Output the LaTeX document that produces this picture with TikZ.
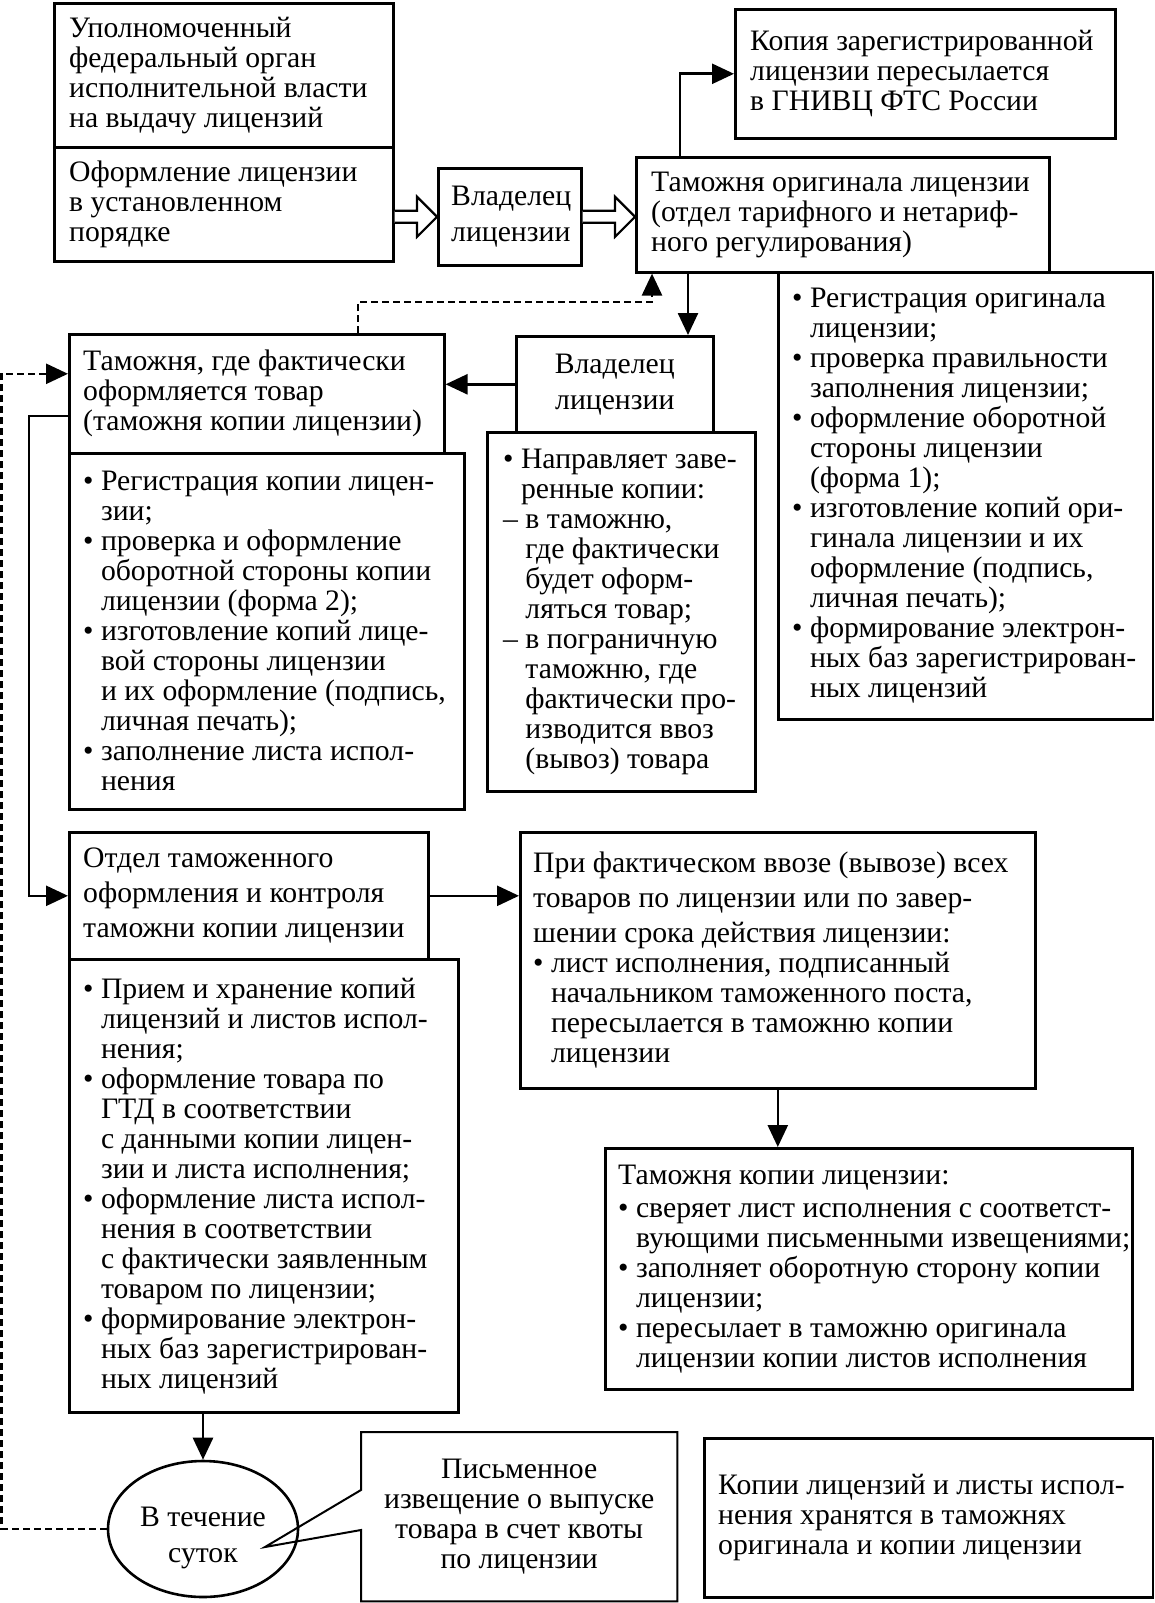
\documentclass[tikz,border=0pt]{standalone}
\usepackage{fontspec}
\setmainfont{Liberation Serif}
\usetikzlibrary{arrows.meta,shapes.geometric,calc}
\newcommand\bi{\hphantom{•\ }}
\newcommand\di{\hphantom{–\ }}
\newcommand\fatarrow[2]{\draw[line width=2.2pt, line join=miter, fill=white] let \p1=(#1), \p2=(#2) in (\x1,\y1+6pt) -- (\x2-20pt,\y1+6pt) -- (\x2-20pt,\y1+20pt) -- (\x2,\y1) -- (\x2-20pt,\y1-20pt) -- (\x2-20pt,\y1-6pt) -- (\x1,\y1-6pt);}
\begin{document}
\begin{tikzpicture}[x=1pt,y=-1pt,
 box/.style={draw, line width=2.6pt, anchor=north west, inner sep=0pt},
 txt/.style={anchor=west, align=left, inner sep=0pt, font=\fontsize{29.7}{30}\selectfont},
 ctxt/.style={align=center, inner sep=0pt, font=\fontsize{29.7}{30}\selectfont},
 conn/.style={line width=2.6pt, -{Triangle[length=22pt,width=20pt]}},
 dconn/.style={conn, dash pattern=on 7pt off 4pt},
]
\useasboundingbox (0,0) rectangle (1154,1603);
% boxes
\node[box, minimum width=339, minimum height=144] (a1) at (53,2) {};
\node[box, minimum width=339, minimum height=114] (a2) at (53,146) {};
\node[box, minimum width=143, minimum height=97] (b) at (437,167) {};
\node[box, minimum width=413, minimum height=115] (c) at (635,156) {};
\node[box, minimum width=380, minimum height=129] (d) at (734,8) {};
\node[box, minimum width=374.5, minimum height=447] (e) at (777,271) {};
\node[box, minimum width=197, minimum height=96] (f) at (515,335) {};
\node[box, minimum width=268, minimum height=359] (g) at (486,431) {};
\node[box, minimum width=375, minimum height=119] (h) at (68,333) {};
\node[box, minimum width=395, minimum height=356] (i) at (68,452) {};
\node[box, minimum width=359, minimum height=127] (j) at (68,831) {};
\node[box, minimum width=389, minimum height=453] (k) at (68,958) {};
\node[box, minimum width=515, minimum height=256] (l) at (519,831) {};
\node[box, minimum width=527, minimum height=241] (m) at (604,1147) {};
\node[box, minimum width=448.5, minimum height=159] (n) at (703,1437) {};
\node[draw, line width=2.6pt, ellipse, minimum width=190, minimum height=136, inner sep=0pt] (ell) at (203,1529) {};
% callout
\node[inner sep=0pt, minimum width=316, minimum height=169, anchor=north west] (o) at (361,1432) {};
\draw[line width=2pt, line join=miter] (o.north west) -- (o.north east) -- (o.south east) -- (o.south west) -- (361,1530) -- (265,1547) -- (361,1490) -- cycle;
% texts
\node[txt] at ([xshift=16pt]a1.west) {Уполномоченный\\федеральный орган\\исполнительной власти\\на выдачу лицензий};
\node[txt] at ([xshift=16pt]a2.west) {Оформление лицензии\\в установленном\\порядке};
\node[txt] at ([xshift=14pt]b.west) {Владелец\\[6pt]лицензии};
\node[txt] at ([xshift=16pt]c.west) {Таможня оригинала лицензии\\(отдел тарифного и нетариф-\\ного регулирования)};
\node[txt] at ([xshift=16pt]d.west) {Копия зарегистрированной\\лицензии пересылается\\в ГНИВЦ ФТС России};
\node[txt] at ([xshift=15pt]e.west) {• Регистрация оригинала\\
\bi лицензии;\\
• проверка правильности\\
\bi заполнения лицензии;\\
• оформление оборотной\\
\bi стороны лицензии\\
\bi (форма 1);\\
• изготовление копий ори-\\
\bi гинала лицензии и их\\
\bi оформление (подпись,\\
\bi личная печать);\\
• формирование электрон-\\
\bi ных баз зарегистрирован-\\
\bi ных лицензий};
\node[ctxt] at (f.center) {Владелец\\[6pt]лицензии};
\node[txt] at ([xshift=17pt]g.west) {• Направляет заве-\\
\bi ренные копии:\\
– в таможню,\\
\di где фактически\\
\di будет оформ-\\
\di ляться товар;\\
– в пограничную\\
\di таможню, где\\
\di фактически про-\\
\di изводится ввоз\\
\di (вывоз) товара};
\node[txt] at ([xshift=15pt]h.west) {Таможня, где фактически\\оформляется товар\\(таможня копии лицензии)};
\node[txt] at ([xshift=15pt]i.west) {• Регистрация копии лицен-\\
\bi зии;\\
• проверка и оформление\\
\bi оборотной стороны копии\\
\bi лицензии (форма 2);\\
• изготовление копий лице-\\
\bi вой стороны лицензии\\
\bi и их оформление (подпись,\\
\bi личная печать);\\
• заполнение листа испол-\\
\bi нения};
\node[txt] at ([xshift=15pt]j.west) {Отдел таможенного\\[5pt]оформления и контроля\\[5pt]таможни копии лицензии};
\node[txt] at ([xshift=15pt]k.west) {• Прием и хранение копий\\
\bi лицензий и листов испол-\\
\bi нения;\\
• оформление товара по\\
\bi ГТД в соответствии\\
\bi с данными копии лицен-\\
\bi зии и листа исполнения;\\
• оформление листа испол-\\
\bi нения в соответствии\\
\bi с фактически заявленным\\
\bi товаром по лицензии;\\
• формирование электрон-\\
\bi ных баз зарегистрирован-\\
\bi ных лицензий};
\node[txt] at ([xshift=14pt]l.west) {При фактическом ввозе (вывозе) всех\\[5pt]
товаров по лицензии или по завер-\\[5pt]
шении срока действия лицензии:\\
• лист исполнения, подписанный\\
\bi начальником таможенного поста,\\
\bi пересылается в таможню копии\\
\bi лицензии};
\node[txt] at ([xshift=14pt]m.west) {Таможня копии лицензии:\\[3pt]
• сверяет лист исполнения с соответст-\\
\bi вующими письменными извещениями;\\
• заполняет оборотную сторону копии\\
\bi лицензии;\\
• пересылает в таможню оригинала\\
\bi лицензии копии листов исполнения};
\node[txt] at ([xshift=15pt]n.west) {Копии лицензий и листы испол-\\нения хранятся в таможнях\\оригинала и копии лицензии};
\node[ctxt] at (o.center) {Письменное\\извещение о выпуске\\товара в счет квоты\\по лицензии};
\node[ctxt] at ([yshift=-9pt]ell.center) {В течение\\[6pt]суток};
% connectors
\fatarrow{b.west -| a2.east}{b.west}
\fatarrow{b.east}{b.east -| c.west}
\draw[conn] ([xshift=45pt]c.north west) |- (d.west);
\draw[conn] ([xshift=53pt]c.south west) -- ([xshift=53pt]c.south west |- f.north);
\draw[dconn] ([xshift=290pt]h.north west) -- ++(0,-31) -| ([xshift=17pt]c.south west);
\draw[conn] (f.west) -- (f.west -| h.east);
\draw[conn] ([yshift=-22pt]h.west) -- ++(-39,0) |- (j.west);
\draw[dconn] (ell.west) -- ++(-105,0) |- ([yshift=20pt]h.west);
\draw[conn] (j.east) -- (j.east -| l.west);
\draw[conn] (l.south) -- (l.south |- m.north);
\draw[conn] (ell.north |- k.south) -- (ell.north);
\end{tikzpicture}
\end{document}
